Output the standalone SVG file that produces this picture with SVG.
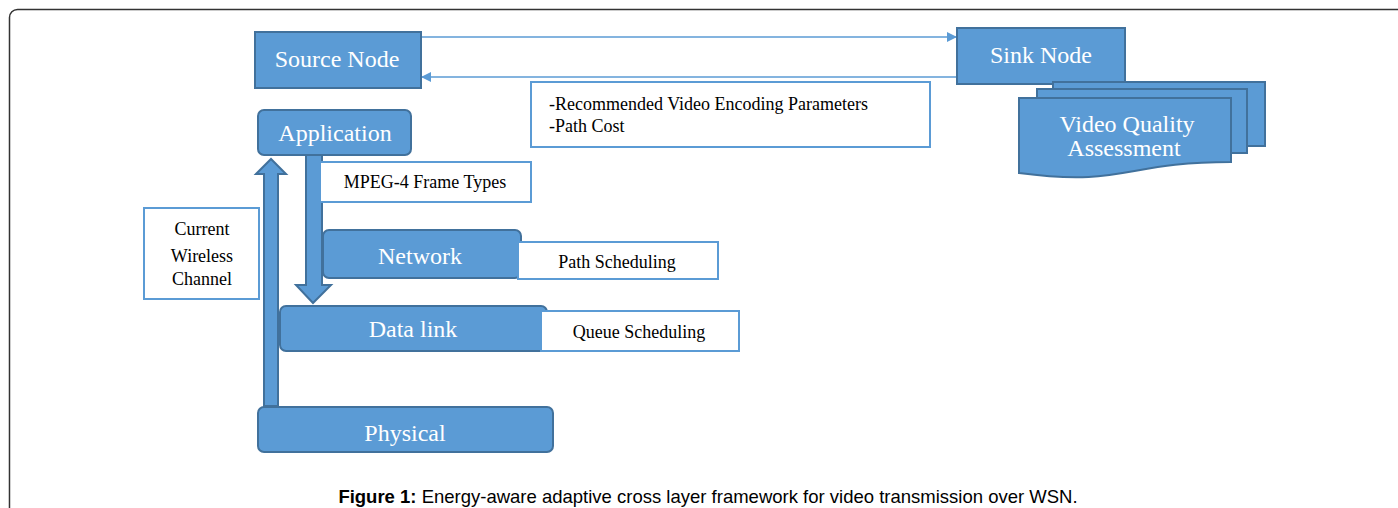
<svg xmlns="http://www.w3.org/2000/svg" width="1398" height="508" viewBox="0 0 1398 508">
<style>
.blk{fill:#5B9BD5;stroke:#41719C;stroke-width:2}
.box{fill:#fff;stroke:#5B9BD5;stroke-width:2}
.wt{font-family:"Liberation Serif",serif;font-size:24px;fill:#fff;text-anchor:middle}
.bt{font-family:"Liberation Serif",serif;font-size:18px;fill:#000}
.ln{stroke:#5B9BD5;stroke-width:1.3;fill:none}
.cap{font-family:"Liberation Sans",Arial,sans-serif;font-size:18.5px;fill:#000;text-anchor:middle}
</style>
<defs>
<marker id="ah" viewBox="0 0 10 10" refX="10" refY="5" markerWidth="11" markerHeight="10" markerUnits="userSpaceOnUse" orient="auto">
<path d="M0,0 L10,5 L0,10 Z" fill="#5B9BD5"/>
</marker>
</defs>
<rect x="9.5" y="9.5" width="1420" height="540" rx="8" fill="#fff" stroke="#333" stroke-width="1.5"/>

<g id="connectors">
<line class="ln" x1="421" y1="37" x2="957" y2="37" marker-end="url(#ah)"/>
<line class="ln" x1="957" y1="77" x2="421" y2="77" marker-end="url(#ah)"/>
<path class="blk" d="M306,155 V285 H296 L313,303 L331,285 H322 V155 Z"/>
<path class="blk" d="M264,406 V174 H256 L271,159 L286,174 H278 V406 Z"/>
</g>

<g id="source">
<rect class="blk" x="255" y="32" width="166" height="56"/>
<text class="wt" x="337" y="67">Source Node</text>
</g>

<g id="sink">
<rect class="blk" x="957" y="28" width="168" height="56"/>
<text class="wt" x="1041" y="63">Sink Node</text>
</g>

<g id="vqa">
<rect class="blk" x="1053" y="82" width="212" height="64"/>
<rect class="blk" x="1037" y="89" width="210" height="64"/>
<path class="blk" d="M1019,98 H1231 V162 C1125,162 1125,187 1019,173 Z"/>
<text class="wt" x="1127" y="132" font-size="23">Video Quality</text>
<text class="wt" x="1124" y="156" font-size="23">Assessment</text>
</g>

<g id="params">
<rect class="box" x="531" y="82" width="399" height="65"/>
<text class="bt" x="549" y="110">-Recommended Video Encoding Parameters</text>
<text class="bt" x="549" y="132">-Path Cost</text>
</g>

<g id="application">
<rect class="blk" x="258" y="110" width="153" height="45" rx="6"/>
<text class="wt" x="335" y="141">Application</text>
</g>

<g id="mpeg">
<rect class="box" x="320" y="162" width="211" height="40"/>
<text class="bt" x="425" y="188" text-anchor="middle">MPEG-4 Frame Types</text>
</g>

<g id="channel">
<rect class="box" x="144" y="208" width="115" height="91"/>
<text class="bt" x="202" y="235" text-anchor="middle">Current</text>
<text class="bt" x="202" y="262" text-anchor="middle">Wireless</text>
<text class="bt" x="202" y="285" text-anchor="middle">Channel</text>
</g>

<g id="network">
<rect class="blk" x="323" y="230" width="198" height="48" rx="6"/>
<text class="wt" x="420" y="264">Network</text>
</g>

<g id="pathsched">
<rect class="box" x="518" y="242" width="200" height="37"/>
<text class="bt" x="617" y="268" text-anchor="middle">Path Scheduling</text>
</g>

<g id="datalink">
<rect class="blk" x="280" y="306" width="267" height="45" rx="6"/>
<text class="wt" x="413" y="337">Data link</text>
</g>

<g id="queuesched">
<rect class="box" x="541" y="311" width="198" height="40"/>
<text class="bt" x="639" y="338" text-anchor="middle">Queue Scheduling</text>
</g>

<g id="physical">
<rect class="blk" x="258" y="407" width="295" height="45" rx="6"/>
<text class="wt" x="405" y="441">Physical</text>
</g>

<text class="cap" x="708" y="503"><tspan font-weight="bold">Figure 1:</tspan> Energy-aware adaptive cross layer framework for video transmission over WSN.</text>
</svg>
